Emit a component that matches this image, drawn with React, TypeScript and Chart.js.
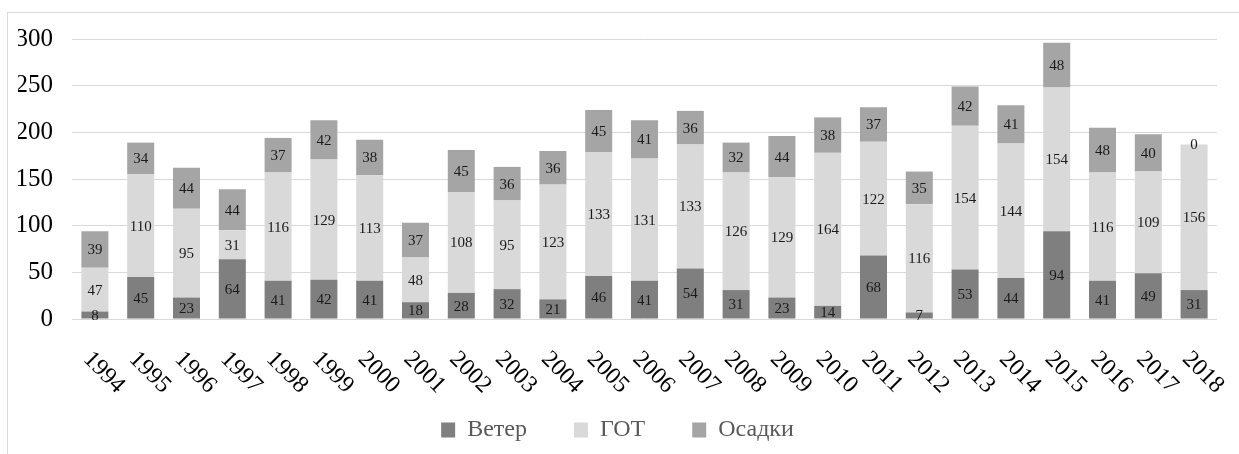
import React, { useEffect, useRef } from "react";
import { Chart, registerables } from "chart.js";

Chart.register(...registerables);

const years = ["1994","1995","1996","1997","1998","1999","2000","2001","2002","2003","2004","2005","2006","2007","2008","2009","2010","2011","2012","2013","2014","2015","2016","2017","2018"];
const veter = [8,45,23,64,41,42,41,18,28,32,21,46,41,54,31,23,14,68,7,53,44,94,41,49,31];
const got = [47,110,95,31,116,129,113,48,108,95,123,133,131,133,126,129,164,122,116,154,144,154,116,109,156];
const osadki = [39,34,44,44,37,42,38,37,45,36,36,45,41,36,32,44,38,37,35,42,41,48,48,40,0];
const seriesNames = ["Ветер", "ГОТ", "Осадки"];
const yTicks = [0, 50, 100, 150, 200, 250, 300];

const FONT = "\"Liberation Serif\", serif";

const labelsPlugin = {
  id: "segLabels",
  afterDatasetsDraw(chart: any) {
    const ctx = chart.ctx;
    ctx.save();
    ctx.font = `15px ${FONT}`;
    ctx.fillStyle = "#1a1a1a";
    ctx.textAlign = "center";
    ctx.textBaseline = "middle";
    chart.data.datasets.forEach((ds: any, di: number) => {
      const meta = chart.getDatasetMeta(di);
      meta.data.forEach((el: any, i: number) => {
        const v = ds.data[i];
        const y = (el.y + el.base) / 2;
        ctx.fillText(String(v), el.x, y + 1);
      });
    });
    ctx.restore();
  },
  afterDraw(chart: any) {
    const ctx = chart.ctx;
    const xs = chart.scales.x;
    ctx.save();
    ctx.font = `24px ${FONT}`;
    ctx.fillStyle = "#000";
    ctx.textAlign = "left";
    ctx.textBaseline = "alphabetic";
    chart.data.labels.forEach((lab: string, i: number) => {
      const x = xs.getPixelForValue(i);
      ctx.save();
      ctx.translate(x - 12.5, xs.top + 41);
      ctx.rotate(Math.PI / 4);
      ctx.fillText(lab, 0, 0);
      ctx.restore();
    });
    ctx.restore();
  },
};

export default function App() {
  const ref = useRef<HTMLCanvasElement>(null);
  useEffect(() => {
    if (!ref.current) return;
    let chart: any = null;
    let cancelled = false;
    const build = () => {
      if (cancelled || !ref.current) return;
      if (chart) { chart.update(); return; }
      chart = new Chart(ref.current, {
        type: "bar",
        data: {
          labels: years,
          datasets: [
            { label: seriesNames[0], data: veter, backgroundColor: "#7f7f7f", categoryPercentage: 1, barPercentage: 0.59 },
            { label: seriesNames[1], data: got, backgroundColor: "#d9d9d9", categoryPercentage: 1, barPercentage: 0.59 },
            { label: seriesNames[2], data: osadki, backgroundColor: "#a5a5a5", categoryPercentage: 1, barPercentage: 0.59 },
          ],
        },
        options: {
          responsive: false,
          animation: false,
          layout: { padding: { top: 39, left: 18, right: 22, bottom: 2 } },
          plugins: {
            tooltip: { enabled: false },
            legend: {
              position: "bottom",
              labels: {
                font: { family: FONT, size: 24 },
                color: "#595959",
                boxWidth: 14,
                boxHeight: 15,
                padding: 47,
              },
            },
          },
          scales: {
            x: {
              stacked: true,
              grid: { display: false, drawTicks: false },
              border: { display: false },
              ticks: { display: false },
              afterFit: (s: any) => { s.height = 52; },
            },
            y: {
              stacked: true,
              min: 0,
              max: 300,
              afterBuildTicks: (s: any) => { s.ticks = yTicks.map((v) => ({ value: v })); },
              grid: { color: "#d9d9d9", drawTicks: false },
              border: { display: false },
              ticks: { font: { family: FONT, size: 25 }, color: "#000", padding: 19 },
              afterFit: (s: any) => { s.width = 54; },
            },
          },
        },
        plugins: [labelsPlugin],
      });
    };
    build();
    const fonts: any = (document as any).fonts;
    if (fonts && fonts.load) {
      Promise.all([
        fonts.load("24px \"Liberation Serif\"", "Ветер 0123456789"),
        fonts.load("15px \"Liberation Serif\"", "0123456789"),
      ]).then(build, build);
    }
    return () => { cancelled = true; if (chart) chart.destroy(); };
  }, []);
  return (
    <>
      <div style={{ position: "absolute", left: 7, top: 12, width: 1232, height: 442, borderTop: "1px solid #d9d9d9", borderLeft: "1px solid #d9d9d9", boxSizing: "border-box" }} />
      <canvas ref={ref} width={1239} height={454} style={{ position: "absolute", left: 0, top: 0, display: "block" }} />
    </>
  );
}
